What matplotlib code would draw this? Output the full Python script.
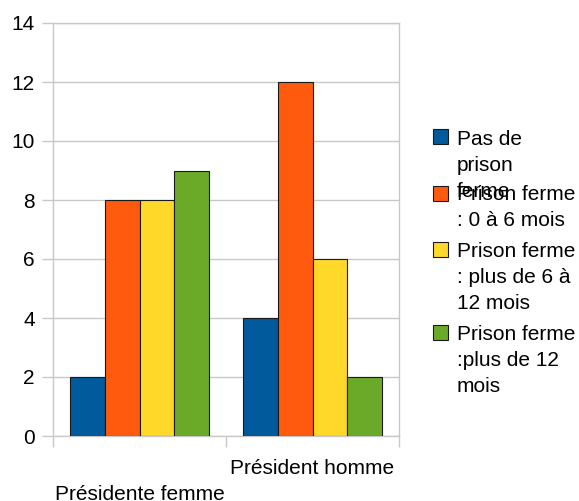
import matplotlib
matplotlib.use("Agg")
import matplotlib.pyplot as plt
from matplotlib.patches import Rectangle
import numpy as np

categories = ["Présidente femme", "Président homme"]
series_names = ["Pas de prison ferme", "Prison ferme : 0 à 6 mois",
                "Prison ferme : plus de 6 à 12 mois", "Prison ferme :plus de 12 mois"]
legend_lines = [["Pas de", "prison", "ferme"],
                ["Prison ferme", ": 0 à 6 mois"],
                ["Prison ferme", ": plus de 6 à", "12 mois"],
                ["Prison ferme", ":plus de 12", "mois"]]
values = [
    [2, 4],   # Pas de prison ferme
    [8, 12],  # 0 à 6 mois
    [8, 6],   # plus de 6 à 12 mois
    [9, 2],   # plus de 12 mois
]
colors = ["#005a9c", "#ff5a0e", "#ffd82a", "#6aaa28"]
yticks = [0, 2, 4, 6, 8, 10, 12, 14]

plt.rcParams['font.family'] = ['Liberation Sans', 'DejaVu Sans']
W, H = 579, 501
fig = plt.figure(figsize=(W/100, H/100), dpi=100)
ax = fig.add_axes([53/W, (H-436)/H, 346/W, 413/H])

x = np.arange(len(categories)) + 0.5
bw = 0.2
for i, (vals, c) in enumerate(zip(values, colors)):
    ax.bar(x + (i - 1.5) * bw, vals, bw, color=c, edgecolor="#1a1a1a",
           linewidth=0.8, zorder=3)

ax.set_xlim(0, len(categories))
ax.set_ylim(0, 14)
ax.set_yticks(yticks)
ax.set_yticklabels([str(t) for t in yticks])
ax.grid(axis='y', color="#c8c8c8", linewidth=1.0, zorder=0)
for s in ax.spines.values():
    s.set_color("#c8c8c8")
    s.set_linewidth(1.0)
ax.tick_params(axis='y', length=8, color="#c8c8c8", width=1.0, labelsize=15, pad=5)
ax.set_xticks(np.arange(len(categories) + 1))
ax.set_xticklabels([])
ax.tick_params(axis='x', length=8, color="#c8c8c8", width=1.0)

# staggered category labels
offsets = [59, 32]
for xi, lab, off in zip(x, categories, offsets):
    ax.annotate(lab, xy=(xi, 0), xycoords=('data', 'axes fraction'),
                xytext=(0, -off * 0.72), textcoords='offset points',
                ha='center', va='center', fontsize=15)

# legend drawn manually
sq_tops = [129, 186, 242, 325]
baselines = [[145, 171, 197], [200, 226], [257, 283, 309], [340, 366, 392]]
for top, c, lines, bls in zip(sq_tops, colors, legend_lines, baselines):
    fig.patches.append(Rectangle((433/W, (H - top - 15)/H), 15/W, 15/H,
                                 transform=fig.transFigure, facecolor=c,
                                 edgecolor="#1a1a1a", linewidth=0.8))
    for ln, bl in zip(lines, bls):
        fig.text(457/W, (H - bl)/H, ln, fontsize=15, ha='left', va='baseline')

fig.savefig("out.png", dpi=100)
